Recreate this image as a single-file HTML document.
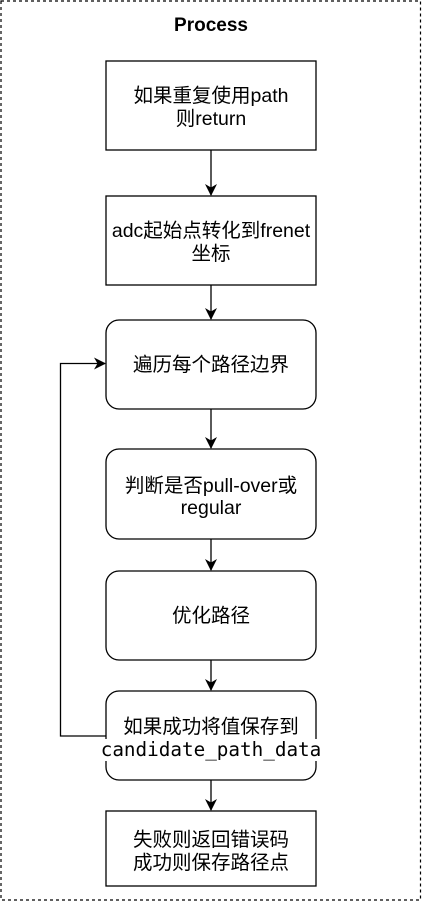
<!DOCTYPE html>
<html><head><meta charset="utf-8"><style>
html,body{margin:0;padding:0;background:#fff;}
svg{display:block;}
text{font-family:"Liberation Sans","Noto Sans CJK SC",sans-serif;font-size:19.5px;fill:#000;}
.m{font-family:"DejaVu Sans Mono","Liberation Mono","Noto Sans CJK SC",monospace;font-size:19.3px;}
</style></head><body>
<svg width="422" height="902" viewBox="0 0 422 902" xmlns="http://www.w3.org/2000/svg">
<defs><marker id="a" markerWidth="12" markerHeight="12" refX="11" refY="6" orient="auto" markerUnits="userSpaceOnUse"><path d="M0,0 L12,6 L0,12 L3.5,6 Z" fill="#000"/></marker></defs>
<rect x="1" y="1" width="419.5" height="899" fill="none" stroke="#000" stroke-dasharray="3,3" stroke-width="1.2"/>
<text x="211" y="31" text-anchor="middle" style="font-weight:bold;font-size:19px">Process</text>
<g fill="#fff" stroke="#000" stroke-width="1.3">
<rect x="106" y="61" width="210" height="89"/>
<rect x="106" y="196" width="210" height="89"/>
<rect x="106" y="320" width="210" height="89" rx="13"/>
<rect x="106" y="449" width="210" height="90" rx="13"/>
<rect x="106" y="571" width="210" height="89" rx="13"/>
<rect x="106" y="691" width="210" height="89" rx="13"/>
<rect x="106" y="811" width="210" height="75"/>
</g>
<g stroke="#000" stroke-width="1.3" fill="none" marker-end="url(#a)">
<line x1="211" y1="150" x2="211" y2="195"/>
<line x1="211" y1="285" x2="211" y2="319"/>
<line x1="211" y1="409" x2="211" y2="448"/>
<line x1="211" y1="539" x2="211" y2="570"/>
<line x1="211" y1="660" x2="211" y2="690"/>
<line x1="211" y1="780" x2="211" y2="810"/>
<polyline points="106,736 60.5,736 60.5,363.5 105,363.5"/>
</g>
<text x="211" y="102" text-anchor="middle">如果重复使用path</text>
<text x="211" y="125" text-anchor="middle">则return</text>
<text x="211" y="237" text-anchor="middle">adc起始点转化到frenet</text>
<text x="211" y="260" text-anchor="middle">坐标</text>
<text x="211" y="371" text-anchor="middle">遍历每个路径边界</text>
<text x="211" y="492" text-anchor="middle">判断是否pull-over或</text>
<text x="211" y="514" text-anchor="middle">regular</text>
<text x="211" y="622" text-anchor="middle">优化路径</text>
<text x="211" y="733" text-anchor="middle">如果成功将值保存到</text>
<rect x="98" y="739" width="226" height="22" fill="#fff"/>
<text class="m" x="211" y="756" text-anchor="middle">candidate_path_data</text>
<text x="211" y="846" text-anchor="middle">失败则返回错误码</text>
<text x="211" y="869" text-anchor="middle">成功则保存路径点</text>
</svg>
</body></html>
